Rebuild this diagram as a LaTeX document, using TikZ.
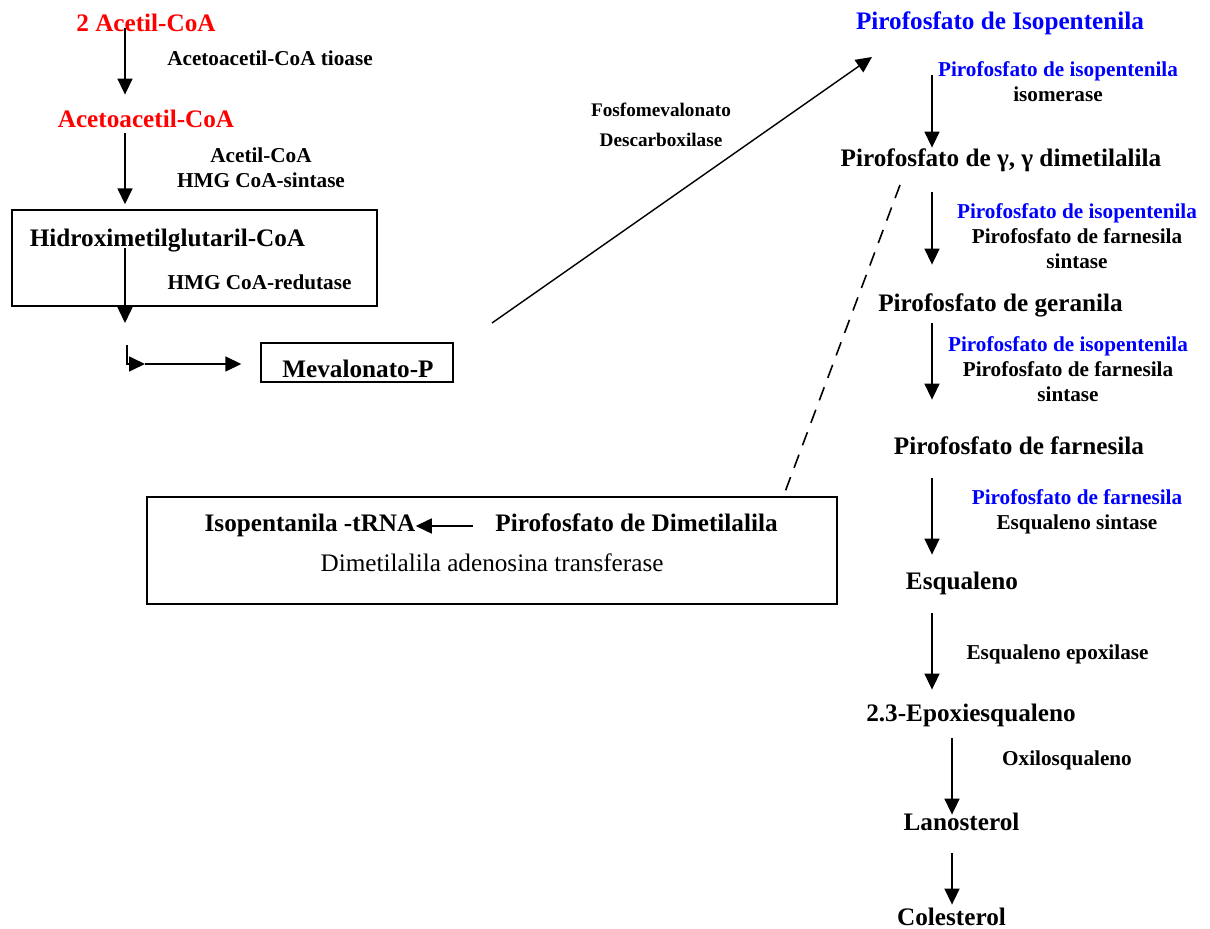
\documentclass[tikz,border=0pt]{standalone}
\usepackage{fontspec}
\setmainfont{Liberation Serif}
\usetikzlibrary{arrows.meta,positioning}

\begin{document}
\begin{tikzpicture}[
  x=0.5pt, y=-0.5pt,
  main/.style={font=\bfseries\fontsize{12.6}{15}\selectfont, inner sep=0pt,
               text height=8.5pt, text depth=2.5pt},
  lab/.style={font=\bfseries\fontsize{10.6}{12.5}\selectfont, inner sep=0pt, align=center},
  frame/.style={draw, line width=0.7pt, inner sep=0pt},
  arr/.style={-{Triangle[length=8pt,width=7.5pt]}, line width=0.8pt},
]
\useasboundingbox (0,0) rectangle (1210,929);

% left column: acetil-CoA -> mevalonato
\node[main,red] (acoa) at (146,26) {2 Acetil-CoA};
\node[lab] (tioase) at (270,58) {Acetoacetil-CoA tioase};
\node[main,red] (acac) at (146,122) {Acetoacetil-CoA};
\node[lab] (sintase) at (261,167.5) {Acetil-CoA\\HMG CoA-sintase};
\node[frame, minimum width=182.5pt, minimum height=48pt] (hmgbox) at (194.5,258) {};
\node[main] (hmg) at (167.5,241) {Hidroximetilglutaril-CoA};
\node[lab] (redutase) at (259.5,282) {HMG CoA-redutase};
\node[frame, minimum width=96pt, minimum height=19.5pt] (mevbox) at (357,362.5) {};
\node[main] (mev) at (358,372) {Mevalonato-P};
\node[lab, font=\bfseries\fontsize{9.6}{15}\selectfont] (descarb) at (661,125) {Fosfomevalonato\\Descarboxilase};

\coordinate (c1) at (125,0);
\coordinate (k1) at (125,323);
\coordinate (k2) at (127,345);
\coordinate (k3) at (145,364);
\coordinate (m1) at (492,323);
\coordinate (m2) at (872,57);

\draw[arr, shorten <=-4.5pt, shorten >=8pt] (c1 |- acoa.south) -- (c1 |- acac.north);
\draw[arr, shorten >=2.5pt] (c1 |- acac.south) -- (c1 |- hmgbox.north);
\draw[arr, shorten <=-2pt] (c1 |- hmg.south) -- (k1);
\draw[arr] (k2) |- (k3);
\draw[arr, shorten >=9.5pt] (k3) -- (k3 -| mevbox.west);
\draw[arr, line width=0.7pt] (m1) -- (m2);

% right column: isopentenila -> colesterol
\node[main,blue] (ipp) at (1000,24) {Pirofosfato de Isopentenila};
\node[lab] (isom) at (1058,81.5) {\textcolor{blue}{Pirofosfato de isopentenila}\\isomerase};
\node[main] (dmap) at (1001,161) {Pirofosfato de γ, γ dimetilalila};
\node[lab] (fsint1) at (1077,236) {\textcolor{blue}{Pirofosfato de isopentenila}\\Pirofosfato de farnesila\\sintase};
\node[main] (gpp) at (1000.5,306) {Pirofosfato de geranila};
\node[lab] (fsint2) at (1068,369) {\textcolor{blue}{Pirofosfato de isopentenila}\\Pirofosfato de farnesila\\sintase};
\node[main] (fpp) at (1019,449) {Pirofosfato de farnesila};
\node[lab] (esint) at (1077,511.5) {\textcolor{blue}{Pirofosfato de farnesila}\\Esqualeno sintase};
\node[main] (esq) at (962,584) {Esqualeno};
\node[lab] (epoxil) at (1057.5,654) {Esqualeno epoxilase};
\node[main] (epox) at (971,716) {2.3-Epoxiesqualeno};
\node[lab] (oxilo) at (1067,760) {Oxilosqualeno};
\node[main] (lano) at (961.5,824) {Lanosterol};
\node[main] (chol) at (951.5,919) {Colesterol};

\coordinate (c2) at (932,0);
\coordinate (c3) at (952,0);

\draw[arr, shorten <=20pt, shorten >=1pt] (c2 |- ipp.south) -- (c2 |- dmap.north);
\draw[arr, shorten <=10pt, shorten >=15pt] (c2 |- dmap.south) -- (c2 |- gpp.north);
\draw[arr, shorten <=3pt, shorten >=19pt] (c2 |- gpp.south) -- (c2 |- fpp.north);
\draw[arr, shorten <=9pt, shorten >=9pt] (c2 |- fpp.south) -- (c2 |- esq.north);
\draw[arr, shorten <=9pt, shorten >=7.5pt] (c2 |- esq.south) -- (c2 |- epox.north);
\draw[arr, shorten <=5.5pt, shorten >=-1pt] (c3 |- epox.south) -- (c3 |- lano.north);
\draw[arr, shorten <=9pt, shorten >=1.5pt] (c3 |- lano.south) -- (c3 |- chol.north);

% tRNA branch
\node[frame, minimum width=345pt, minimum height=53.5pt] (trna) at (492,550.5) {};
\node[main] (iso) at (310,526) {Isopentanila -tRNA};
\node[main] (dma) at (636.5,526) {Pirofosfato de Dimetilalila};
\node[font=\fontsize{12.6}{15}\selectfont, inner sep=0pt] (adeno) at (492,563) {Dimetilalila adenosina transferase};

\coordinate (d1) at (900,185);
\coordinate (d2) at (785,492);

\draw[arr, shorten <=11pt] (dma.west) -- (iso.east);
\draw[line width=0.8pt, dash pattern=on 7pt off 5pt] (d1) -- (d2);
\end{tikzpicture}
\end{document}
